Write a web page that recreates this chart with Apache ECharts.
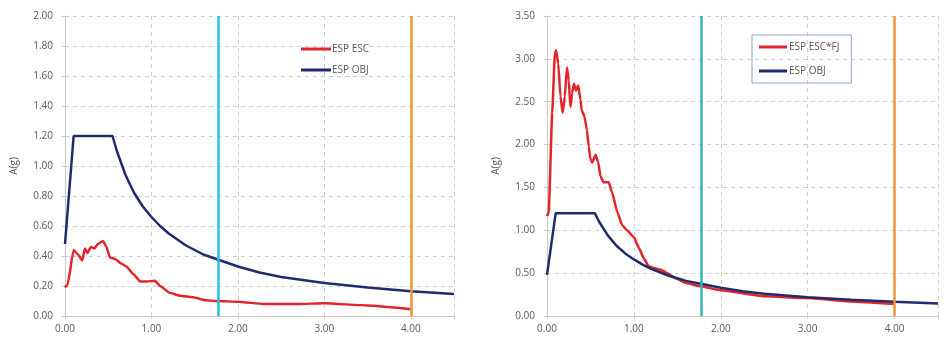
<!DOCTYPE html>
<html>
<head>
<meta charset="utf-8">
<script src="https://cdn.jsdelivr.net/npm/echarts@6/dist/echarts.min.js"></script>
<style>
  html, body { margin: 0; padding: 0; background: #fff; }
  #chart { width: 952px; height: 342px; }
</style>
</head>
<body>
<div id="chart"></div>
<script>
// periods T (s) and spectral accelerations A(g)
var objT = [0, 0.1, 0.55, 0.6, 0.65, 0.7, 0.75, 0.8, 0.9, 1.0, 1.1, 1.2, 1.3, 1.4, 1.5, 1.6, 1.8, 2.0, 2.25, 2.5, 2.75, 3.0, 3.5, 4.0, 4.5]
var objA = [0.48, 1.2, 1.2, 1.1, 1.02, 0.94, 0.88, 0.82, 0.73, 0.66, 0.6, 0.55, 0.51, 0.47, 0.44, 0.41, 0.37, 0.33, 0.29, 0.26, 0.24, 0.22, 0.19, 0.165, 0.147]

var escT = [0, 0.03, 0.1, 0.15, 0.2, 0.23, 0.26, 0.3, 0.34, 0.38, 0.44, 0.48, 0.52, 0.58, 0.65, 0.71, 0.79, 0.87, 0.94, 1.04, 1.1, 1.21, 1.33, 1.48, 1.63, 1.75, 2.0, 2.3, 2.7, 3.0, 3.5, 4.0]
var escA = [0.19, 0.21, 0.44, 0.41, 0.37, 0.45, 0.42, 0.46, 0.45, 0.48, 0.5, 0.46, 0.39, 0.38, 0.35, 0.33, 0.28, 0.23, 0.23, 0.235, 0.2, 0.155, 0.135, 0.125, 0.105, 0.1, 0.095, 0.08, 0.08, 0.085, 0.07, 0.045]

var escFjT = [0, 0.02, 0.06, 0.09, 0.105, 0.13, 0.155, 0.18, 0.205, 0.23, 0.25, 0.27, 0.29, 0.31, 0.335, 0.36, 0.385, 0.4, 0.43, 0.46, 0.48, 0.5, 0.52, 0.56, 0.59, 0.615, 0.65, 0.71, 0.75, 0.81, 0.865, 0.92, 1.0, 1.06, 1.115, 1.17, 1.23, 1.31, 1.385, 1.48, 1.6, 1.75, 2.0, 2.5, 3.0, 3.5, 4.0]
var escFjA = [1.165, 1.21, 2.37, 3.06, 3.1, 2.94, 2.56, 2.37, 2.56, 2.9, 2.75, 2.44, 2.6, 2.71, 2.63, 2.69, 2.52, 2.4, 2.33, 2.17, 1.98, 1.83, 1.79, 1.88, 1.79, 1.63, 1.56, 1.56, 1.44, 1.21, 1.06, 1.0, 0.92, 0.79, 0.67, 0.58, 0.56, 0.54, 0.5, 0.44, 0.385, 0.35, 0.3, 0.23, 0.21, 0.17, 0.14]

var xTicks = [0, 1, 2, 3, 4]
var cyanT = 1.77
var orangeT = 4.0

function zip (xs, ys) {
  return xs.map(function (x, i) { return [x, ys[i]] })
}

var red = '#e3242b'
var navy = '#1f2b6c'
var txt = '#595959'
var font = 'Open Sans'

function xAxisFor (gi) {
  return {
    gridIndex: gi, type: 'value', min: 0, max: 4.5, interval: 1,
    axisLine: { show: true, lineStyle: { color: '#c8c8c8' } },
    axisTick: { show: true, length: 3, lineStyle: { color: '#c8c8c8' } },
    axisLabel: {
      color: txt, fontSize: 10, fontFamily: font, margin: 8,
      formatter: function (v) { return xTicks.indexOf(v) >= 0 ? v.toFixed(2) : '' }
    },
    splitLine: { show: true, lineStyle: { color: '#d0d0d0', type: [4, 4] } }
  }
}

function yAxisFor (gi, max, step) {
  return {
    gridIndex: gi, type: 'value', min: 0, max: max, interval: step,
    name: 'A(g)', nameLocation: 'middle', nameGap: 46, nameRotate: 90,
    nameTextStyle: { color: txt, fontSize: 10, fontFamily: font },
    axisLine: { show: true, lineStyle: { color: '#c8c8c8' } },
    axisTick: { show: true, length: 3, lineStyle: { color: '#c8c8c8' } },
    axisLabel: {
      color: txt, fontSize: 10, fontFamily: font, margin: 12,
      formatter: function (v) { return v.toFixed(2) }
    },
    splitLine: { show: true, lineStyle: { color: '#d0d0d0', type: [4, 4] } }
  }
}

function vLines (cyan) {
  return {
    silent: true, symbol: 'none', label: { show: false },
    data: [
      { xAxis: cyanT, lineStyle: { color: cyan, width: 2.5, type: 'solid' } },
      { xAxis: orangeT, lineStyle: { color: '#ee9633', width: 2.5, type: 'solid' } }
    ]
  }
}

var myChart = echarts.init(document.getElementById('chart'))
myChart.setOption({
  animation: false,
  backgroundColor: '#fff',
  grid: [
    { left: 65, top: 16, width: 389, height: 300 },
    { left: 547, top: 16, width: 391, height: 300 }
  ],
  legend: [
    {
      data: ['ESP ESC', 'ESP OBJ'], orient: 'vertical', left: 296, top: 39,
      itemWidth: 30, itemHeight: 3, itemGap: 11, icon: 'rect',
      textStyle: { color: txt, fontSize: 10, fontFamily: font, padding: [0, 0, 0, -4] }
    },
    {
      data: ['ESP ESC*FJ', { name: 'ESP OBJ' }], orient: 'vertical', left: 752, top: 35,
      itemWidth: 28, itemHeight: 3, itemGap: 14, icon: 'rect',
      padding: [7, 12, 7, 7], borderColor: '#8fa5d6', borderWidth: 1,
      textStyle: { color: txt, fontSize: 10, fontFamily: font, padding: [0, 0, 0, -3] }
    }
  ],
  xAxis: [xAxisFor(0), xAxisFor(1)],
  yAxis: [yAxisFor(0, 2, 0.2), yAxisFor(1, 3.5, 0.5)],
  series: [
    {
      name: 'ESP ESC', type: 'line', xAxisIndex: 0, yAxisIndex: 0,
      data: zip(escT, escA), showSymbol: false, smooth: 0.15, smoothMonotone: 'x',
      lineStyle: { color: red, width: 2.5 }, itemStyle: { color: red },
      markLine: vLines('#22c3e0')
    },
    {
      name: 'ESP OBJ', type: 'line', xAxisIndex: 0, yAxisIndex: 0,
      data: zip(objT, objA), showSymbol: false,
      lineStyle: { color: navy, width: 2.5 }, itemStyle: { color: navy }
    },
    {
      name: 'ESP ESC*FJ', type: 'line', xAxisIndex: 1, yAxisIndex: 1,
      data: zip(escFjT, escFjA), showSymbol: false, smooth: 0.15, smoothMonotone: 'x',
      lineStyle: { color: red, width: 2.5 }, itemStyle: { color: red },
      markLine: vLines('#33b4bc')
    },
    {
      name: 'ESP OBJ', type: 'line', xAxisIndex: 1, yAxisIndex: 1,
      data: zip(objT, objA), showSymbol: false,
      lineStyle: { color: navy, width: 2.5 }, itemStyle: { color: navy }
    }
  ]
})
</script>
</body>
</html>
